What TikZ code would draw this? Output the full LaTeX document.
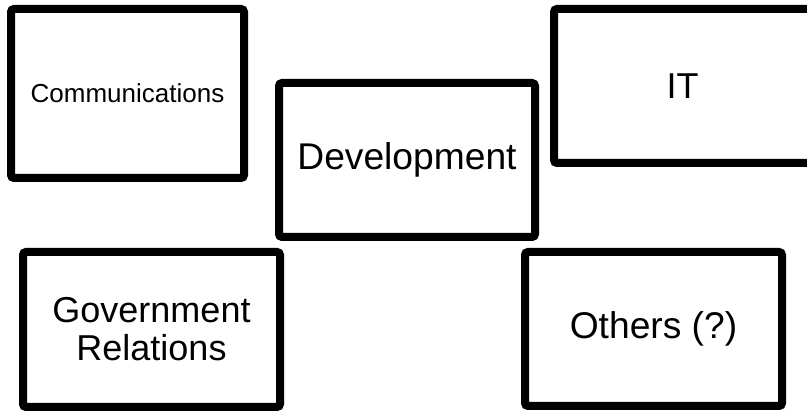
\documentclass[tikz,border=0pt]{standalone}
\usepackage{fontspec}
\setmainfont{Liberation Sans}
\usetikzlibrary{shadows}
\begin{document}
\begin{tikzpicture}[x=1pt,y=-1pt,
  box/.style={draw=black, fill=white, line width=8pt, rounded corners=3pt,
    inner sep=0pt, align=center,
    drop shadow={shadow xshift=1.5pt, shadow yshift=-3pt, opacity=0.25, fill=black}},
  bigtext/.style={font=\fontsize{36}{38}\selectfont},
  midtext/.style={font=\fontsize{37.2}{38}\selectfont},
  smalltext/.style={font=\fontsize{26}{28}\selectfont}]
\useasboundingbox (0,0) rectangle (807,411);
\clip (0,0) rectangle (807,411);
\node[box, smalltext, minimum width=233pt, minimum height=169pt] (comm) at (127.5,93.5) {Communications};
\node[box, bigtext, minimum width=257pt, minimum height=154pt] (it) at (682.5,86) {IT};
\node[box, midtext, minimum width=256pt, minimum height=154pt] (dev) at (407,160) {Development};
\node[box, bigtext, minimum width=257pt, minimum height=155pt] (gov) at (151.5,329.5) {Government\\Relations};
\node[box, midtext, minimum width=257pt, minimum height=154pt] (oth) at (653.5,329) {Others (?)};
\end{tikzpicture}
\end{document}
